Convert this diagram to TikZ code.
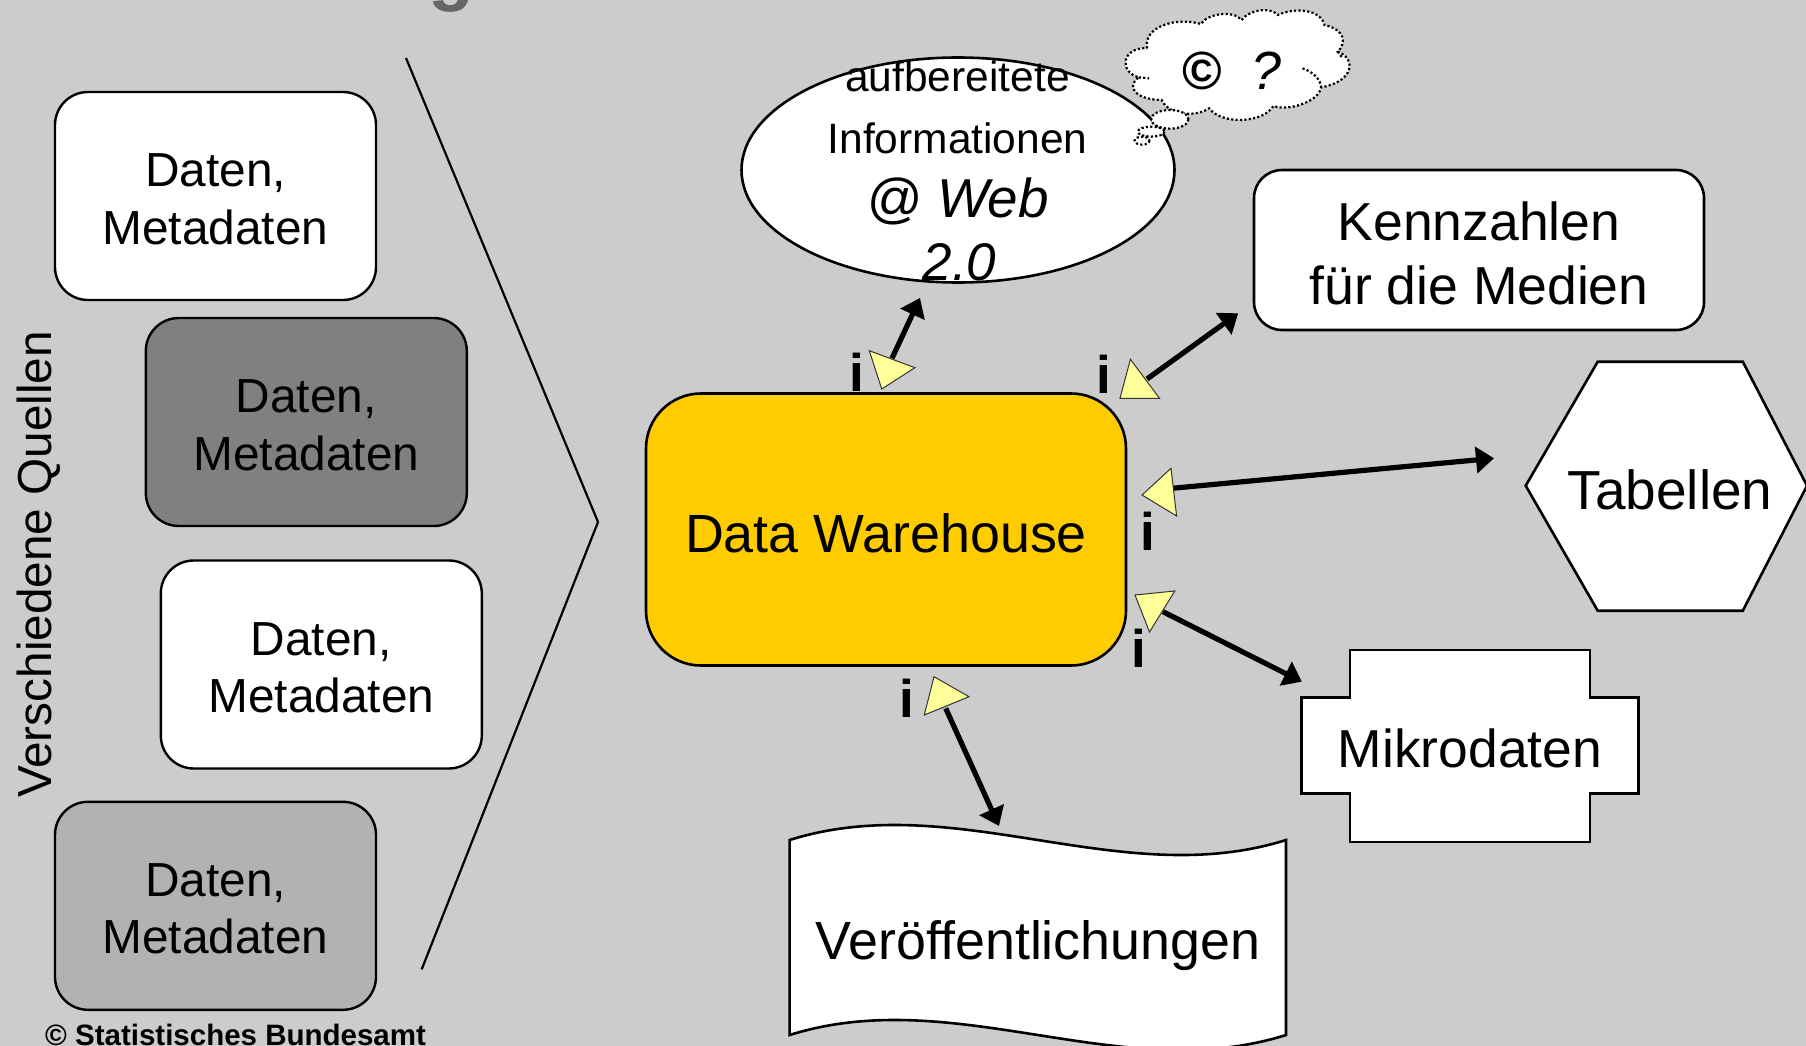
\documentclass[tikz,border=0pt]{standalone}
\usepackage{fontspec}
\setmainfont{Liberation Sans}
\usetikzlibrary{arrows.meta,shapes.geometric}
\newcommand{\pxfont}[2]{\fontsize{#1}{#2}\selectfont}
\definecolor{bgc}{HTML}{CCCCCC}
\definecolor{amber}{HTML}{FFCC00}
\definecolor{tri}{HTML}{FFFF99}
\tikzset{
  srcbox/.style={draw=black,line width=2.4pt,rounded corners=33pt,minimum width=321pt,minimum height=208pt,inner sep=0pt,outer sep=0pt,align=center,font=\pxfont{47.8}{57.3},text height=96.3pt,text depth=0pt},
  shapeline/.style={draw=black,line width=2.6pt,fill=white,line join=miter},
  bigtext/.style={font=\pxfont{53.8}{64},anchor=base,inner sep=0pt},
  webtext/.style={font=\pxfont{42.5}{50},anchor=base,inner sep=0pt},
  flag/.style={draw=black!80,line width=1pt,fill=tri,line join=miter},
  infoi/.style={font=\bfseries\pxfont{53}{60},anchor=base,inner sep=0pt},
  link/.style={draw=black,line width=5.2pt,-{Triangle[length=18pt,width=26pt]}},
  cloudline/.style={draw=black,line width=2.2pt,dash pattern=on 2.2pt off 2.2pt},
}
\begin{document}
\begin{tikzpicture}[x=1pt,y=-1pt]
\useasboundingbox (0,0) rectangle (1806,1046);
\clip (0,0) rectangle (1806,1046);
\fill[bgc] (0,0) rectangle (1806,1046);

% cut-off title descender
\node[font=\bfseries\pxfont{75}{80},text=black!60,anchor=base,inner sep=0pt] (titleg) at (451,-3) {g};

% sources
\node[srcbox,fill=white] (src1) at (215.5,196) {Daten,\\Metadaten};
\node[srcbox,fill=black!50] (src2) at (306.3,422) {Daten,\\Metadaten};
\node[srcbox,fill=white] (src3) at (321.3,664.5) {Daten,\\Metadaten};
\node[srcbox,fill=black!30] (src4) at (215.5,905.8) {Daten,\\Metadaten};
\node[font=\pxfont{47.7}{50},rotate=90,anchor=base west,inner sep=0pt] (quellen) at (51,798) {Verschiedene Quellen};
\node[font=\bfseries\pxfont{29.5}{32},anchor=base west,inner sep=0pt] (copyr) at (45,1045) {© Statistisches Bundesamt};

% chevron
\coordinate (chevA) at (406,58);
\coordinate (chevB) at (598,522);
\coordinate (chevC) at (421.7,969.3);
\draw[line width=2.2pt,line join=miter] (chevA) -- (chevB) -- (chevC);

% warehouse
\node[draw=black,line width=2.6pt,fill=amber,rounded corners=55pt,minimum width=480pt,minimum height=272pt,inner sep=0pt,outer sep=0pt,font=\pxfont{53.8}{64},text height=45pt,text depth=0pt] (dw) at (886,529.5) {Data Warehouse};

% web ellipse
\node[ellipse,draw=black,line width=2.6pt,fill=white,minimum width=433pt,minimum height=225pt,inner sep=0pt] (web) at (958,170) {};
\node[webtext] (w1) at (957.5,91.2) {aufbereitete};
\node[webtext] (w2) at (957.5,153.2) {Informationen};
\node[bigtext,font=\itshape\pxfont{54.8}{64}] (w3) at (957.5,217.7) {@ Web};
\node[bigtext,font=\itshape\pxfont{53}{64}] (w4) at (959.5,280) {2.0};

% thought cloud
\begin{scope}[shift={(720,0)},xscale=0.4146,yscale=0.3333]
\draw[cloudline,fill=white] (1030,145)
 .. controls (1020,80) and (1100,50) .. (1160,72)
 .. controls (1175,40) and (1240,30) .. (1258,60)
 .. controls (1280,25) and (1330,22) .. (1345,45)
 .. controls (1390,20) and (1450,30) .. (1458,75)
 .. controls (1510,90) and (1510,130) .. (1490,155)
 .. controls (1535,175) and (1530,245) .. (1450,262)
 .. controls (1445,305) and (1370,335) .. (1335,318)
 .. controls (1310,370) and (1210,375) .. (1180,325)
 .. controls (1150,350) and (1085,350) .. (1065,300)
 .. controls (1010,300) and (975,265) .. (1010,232)
 .. controls (960,215) and (970,140) .. (1030,145) -- cycle;
\draw[cloudline] (1405,205) .. controls (1430,215) and (1450,240) .. (1450,262);
\draw[cloudline] (1010,232) -- (1035,235);
\draw[cloudline] (1490,155) -- (1500,172);
\draw[cloudline,fill=white] (1085,358) ellipse (45 and 28);
\draw[cloudline,fill=white] (1040,395) ellipse (32 and 15);
\draw[cloudline] (1018,422) ellipse (18 and 12);
\end{scope}
\node[bigtext] (copyq) at (1232,89.5) {\textbf{©}\ \ \textit{?}};

% targets
\node[draw=black,line width=2.6pt,fill=white,rounded corners=28pt,minimum width=450pt,minimum height=160pt,inner sep=0pt,outer sep=0pt,align=center,font=\pxfont{53.5}{64},text height=108pt,text depth=0pt] (kenn) at (1479,250) {Kennzahlen\\für die Medien};

\draw[shapeline] (1525.7,485.7) -- (1597.7,361.7) -- (1742.8,361.7) -- (1807,485.7) -- (1742.8,610.7) -- (1597.7,610.7) -- cycle;
\node[bigtext,font=\pxfont{55}{64}] (tab) at (1670,509.5) {Tabellen};

\draw[shapeline] (1350,650) -- (1590,650) -- (1590,697.7) -- (1638.3,697.7) -- (1638.3,793.3) -- (1590,793.3) -- (1590,842) -- (1350,842) -- (1350,793.3) -- (1301.4,793.3) -- (1301.4,697.7) -- (1350,697.7) -- cycle;
\node[bigtext,font=\pxfont{53.4}{64}] (mikro) at (1470,767.7) {Mikrodaten};

\draw[shapeline] (789.6,840) .. controls (955,788) and (1120.6,892) .. (1286,840) -- (1286,1035) .. controls (1120.6,1087) and (955,983) .. (789.6,1035) -- cycle;
\node[bigtext,font=\pxfont{53.8}{64}] (veroe) at (1038,959.8) {Veröffentlichungen};

% connector ends
\coordinate (s1) at (892,358.3);  \coordinate (t1) at (920,298);
\coordinate (s2) at (1147,379);   \coordinate (t2) at (1238.2,313.3);
\coordinate (s3) at (1172,488.3); \coordinate (t3) at (1494,458.3);
\coordinate (s4) at (1163,611.7); \coordinate (t4) at (1301.8,681.7);
\coordinate (s5) at (945.7,708.3);\coordinate (t5) at (999,826);
\draw[link] (s1) -- (t1);
\draw[link] (s2) -- (t2);
\draw[link] (s3) -- (t3);
\draw[link] (s4) -- (t4);
\draw[link] (s5) -- (t5);

% info flags
\draw[flag] (869.3,350.7) -- (914.9,367.7) -- (881.7,389) -- cycle;
\draw[flag] (1130.4,359.3) -- (1159.5,398.3) -- (1120,398.3) -- cycle;
\draw[flag] (1142,495) -- (1171,468.3) -- (1176.6,516) -- cycle;
\draw[flag] (1135,595) -- (1174.8,591) -- (1149.5,632) -- cycle;
\draw[flag] (934,676.7) -- (969,696.7) -- (924.3,715) -- cycle;
\node[infoi] (i1) at (856.5,391) {i};
\node[infoi] (i2) at (1103.5,393.5) {i};
\node[infoi] (i3) at (1148,550) {i};
\node[infoi] (i4) at (1139,667.5) {i};
\node[infoi] (i5) at (907,717.5) {i};
\end{tikzpicture}
\end{document}
